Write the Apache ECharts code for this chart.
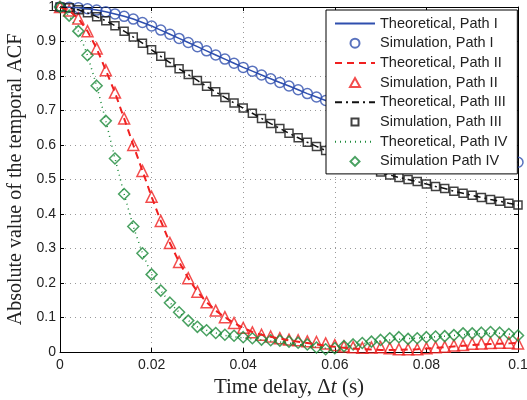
<!DOCTYPE html>
<html>
<head>
<meta charset="utf-8">
<script src="https://cdn.jsdelivr.net/npm/echarts@6/dist/echarts.min.js"></script>
<style>
html, body { margin: 0; padding: 0; background: #fff; }
#chart { width: 527px; height: 400px; }
</style>
</head>
<body>
<div id="chart"></div>
<script>
// time delay (s)
var tau = [0, 0.002, 0.004, 0.006, 0.008, 0.010, 0.012, 0.014, 0.016, 0.018,
    0.020, 0.022, 0.024, 0.026, 0.028, 0.030, 0.032, 0.034, 0.036, 0.038,
    0.040, 0.042, 0.044, 0.046, 0.048, 0.050, 0.052, 0.054, 0.056, 0.058,
    0.060, 0.062, 0.064, 0.066, 0.068, 0.070, 0.072, 0.074, 0.076, 0.078,
    0.080, 0.082, 0.084, 0.086, 0.088, 0.090, 0.092, 0.094, 0.096, 0.098, 0.100];

var simI = [1.000, 0.9995, 0.998, 0.995, 0.991, 0.986, 0.980, 0.973, 0.965, 0.955,
    0.945, 0.933, 0.921, 0.909, 0.897, 0.885, 0.873, 0.861, 0.849, 0.837,
    0.825, 0.814, 0.803, 0.792, 0.781, 0.771, 0.760, 0.749, 0.739, 0.729,
    0.719, 0.710, 0.700, 0.691, 0.682, 0.673, 0.664, 0.655, 0.646, 0.637,
    0.629, 0.620, 0.612, 0.604, 0.596, 0.588, 0.580, 0.572, 0.565, 0.557, 0.550];

var simII = [1.000, 0.990, 0.967, 0.930, 0.880, 0.817, 0.752, 0.677, 0.600, 0.525,
    0.450, 0.380, 0.316, 0.261, 0.214, 0.175, 0.144, 0.120, 0.101, 0.084,
    0.070, 0.057, 0.050, 0.045, 0.040, 0.036, 0.034, 0.031, 0.029, 0.025,
    0.020, 0.016, 0.014, 0.012, 0.013, 0.014, 0.011, 0.008, 0.008, 0.008,
    0.011, 0.014, 0.015, 0.019, 0.020, 0.024, 0.025, 0.026, 0.027, 0.027, 0.025];

var theoryII = [1.000, 0.990, 0.967, 0.930, 0.880, 0.817, 0.752, 0.677, 0.600, 0.525,
    0.450, 0.380, 0.316, 0.261, 0.214, 0.175, 0.144, 0.120, 0.101, 0.084,
    0.070, 0.058, 0.050, 0.044, 0.039, 0.034, 0.030, 0.026, 0.022, 0.018,
    0.015, 0.012, 0.010, 0.008, 0.007, 0.006, 0.006, 0.006, 0.007, 0.008,
    0.010, 0.012, 0.014, 0.016, 0.018, 0.020, 0.022, 0.023, 0.024, 0.025, 0.026];

var simIII = [1.000, 0.998, 0.992, 0.983, 0.972, 0.960, 0.946, 0.930, 0.913, 0.895,
    0.876, 0.857, 0.839, 0.821, 0.804, 0.787, 0.770, 0.754, 0.738, 0.722,
    0.707, 0.692, 0.677, 0.662, 0.648, 0.634, 0.621, 0.608, 0.596, 0.584,
    0.573, 0.562, 0.551, 0.541, 0.531, 0.522, 0.513, 0.506, 0.500, 0.494,
    0.487, 0.480, 0.474, 0.466, 0.460, 0.454, 0.448, 0.442, 0.437, 0.431, 0.426];

var simIV = [1.000, 0.975, 0.930, 0.860, 0.772, 0.670, 0.561, 0.458, 0.364, 0.286,
    0.225, 0.178, 0.143, 0.115, 0.091, 0.073, 0.063, 0.055, 0.050, 0.047,
    0.043, 0.040, 0.036, 0.034, 0.033, 0.030, 0.027, 0.022, 0.013, 0.008,
    0.011, 0.017, 0.022, 0.026, 0.030, 0.035, 0.040, 0.043, 0.038, 0.040,
    0.043, 0.045, 0.046, 0.049, 0.054, 0.054, 0.056, 0.058, 0.056, 0.052, 0.048];

var theoryIV = [1.000, 0.975, 0.930, 0.860, 0.772, 0.670, 0.561, 0.458, 0.364, 0.286,
    0.225, 0.178, 0.143, 0.115, 0.091, 0.073, 0.063, 0.055, 0.048, 0.044,
    0.041, 0.038, 0.035, 0.032, 0.029, 0.026, 0.022, 0.018, 0.014, 0.011,
    0.012, 0.016, 0.020, 0.024, 0.028, 0.032, 0.035, 0.037, 0.039, 0.040,
    0.042, 0.044, 0.046, 0.048, 0.050, 0.052, 0.053, 0.054, 0.054, 0.052, 0.049];

var BLUE = '#2f4fae', RED = '#f02020', BLACK = '#111111', GREEN = '#1b8a3a';

function pairs(ys) {
    return tau.map(function (t, i) { return [t, ys[i]]; });
}

var myChart = echarts.init(document.getElementById('chart'));

var tickFont = { fontFamily: 'Liberation Sans', fontSize: 14, color: '#222' };
var hideMarker = { opacity: 0 };

var option = {
    animation: false,
    backgroundColor: '#fff',
    grid: { left: 60, right: 9, top: 7, bottom: 48, containLabel: false, outerBoundsMode: 'none' },
    legend: {
        orient: 'vertical',
        left: 326,
        top: 10,
        padding: [6, 10, 5, 8],
        itemGap: 4.7,
        itemWidth: 40,
        itemHeight: 9,
        backgroundColor: '#fff',
        borderColor: '#000',
        borderWidth: 1,
        borderRadius: 0,
        textStyle: { fontFamily: 'Liberation Sans', fontSize: 14.5, color: '#222' },
        data: [
            { name: 'Theoretical, Path I', itemStyle: hideMarker },
            { name: 'Simulation, Path I', icon: 'circle' },
            { name: 'Theoretical, Path II', itemStyle: hideMarker },
            { name: 'Simulation, Path II', icon: 'path://M5,0 L10,9 L0,9 Z' },
            { name: 'Theoretical, Path III', itemStyle: hideMarker },
            { name: 'Simulation, Path III', icon: 'path://M0,0 M9,9 M1,1 L8,1 L8,8 L1,8 Z' },
            { name: 'Theoretical, Path IV', itemStyle: hideMarker },
            { name: 'Simulation Path IV', icon: 'path://M5,0 L10,5 L5,10 L0,5 Z' }
        ]
    },
    xAxis: [{
        type: 'value',
        min: 0, max: 0.1, interval: 0.02,
        name: 'Time delay, \u0394{i|t} (s)',
        nameLocation: 'middle',
        nameGap: 19,
        nameTextStyle: {
            fontFamily: 'Liberation Serif', fontSize: 21, color: '#222',
            rich: { i: { fontFamily: 'Liberation Serif', fontSize: 21, fontStyle: 'italic', color: '#222' } }
        },
        axisLine: { show: true, lineStyle: { color: '#000', width: 1 } },
        axisTick: { inside: true, length: 4, lineStyle: { color: '#000' } },
        axisLabel: Object.assign({ margin: 6, formatter: function (v) { return String(+v.toFixed(2)); } }, tickFont),
        splitLine: { show: true, lineStyle: { color: '#999', type: [1, 4], width: 1 } }
    }, {
        type: 'value', position: 'top',
        min: 0, max: 0.1, interval: 0.02,
        axisLine: { show: true, onZero: false, lineStyle: { color: '#000', width: 1 } },
        axisTick: { inside: true, length: 4, lineStyle: { color: '#000' } },
        axisLabel: { show: false },
        splitLine: { show: false }
    }],
    yAxis: [{
        type: 'value',
        min: 0, max: 1, interval: 0.1,
        name: 'Absolute value of the temporal ACF',
        nameLocation: 'middle',
        nameGap: 31,
        nameTextStyle: { fontFamily: 'Liberation Serif', fontSize: 20, color: '#222' },
        axisLine: { show: true, lineStyle: { color: '#000', width: 1 } },
        axisTick: { inside: true, length: 4, lineStyle: { color: '#000' } },
        axisLabel: Object.assign({ margin: 4, formatter: function (v) { return String(+v.toFixed(1)); } }, tickFont),
        splitLine: { show: true, lineStyle: { color: '#999', type: [1, 4], width: 1 } }
    }, {
        type: 'value', position: 'right',
        min: 0, max: 1, interval: 0.1,
        axisLine: { show: true, onZero: false, lineStyle: { color: '#000', width: 1 } },
        axisTick: { inside: true, length: 4, lineStyle: { color: '#000' } },
        axisLabel: { show: false },
        splitLine: { show: false }
    }],
    series: [
        {
            name: 'Theoretical, Path I', type: 'line', data: pairs(simI),
            symbol: 'none', color: BLUE,
            lineStyle: { color: BLUE, width: 1.5 }
        },
        {
            name: 'Simulation, Path I', type: 'scatter', data: pairs(simI),
            symbol: 'circle', symbolSize: 10,
            itemStyle: { color: 'rgba(0,0,0,0)', borderColor: BLUE, borderWidth: 1.5 }
        },
        {
            name: 'Theoretical, Path II', type: 'line', data: pairs(theoryII),
            symbol: 'none', color: RED,
            lineStyle: { color: RED, width: 2, type: [7, 5] }
        },
        {
            name: 'Simulation, Path II', type: 'scatter', data: pairs(simII),
            symbol: 'triangle', symbolSize: 11,
            itemStyle: { color: 'rgba(0,0,0,0)', borderColor: RED, borderWidth: 1.5 }
        },
        {
            name: 'Theoretical, Path III', type: 'line', data: pairs(simIII),
            symbol: 'none', color: BLACK,
            lineStyle: { color: BLACK, width: 1.5, type: [7, 4, 2, 4] }
        },
        {
            name: 'Simulation, Path III', type: 'scatter', data: pairs(simIII),
            symbol: 'rect', symbolSize: 8,
            itemStyle: { color: 'rgba(0,0,0,0)', borderColor: BLACK, borderWidth: 1.5 }
        },
        {
            name: 'Theoretical, Path IV', type: 'line', data: pairs(theoryIV),
            symbol: 'none', color: GREEN,
            lineStyle: { color: GREEN, width: 1.5, type: [1, 4] }
        },
        {
            name: 'Simulation Path IV', type: 'scatter', data: pairs(simIV),
            symbol: 'diamond', symbolSize: 11,
            itemStyle: { color: 'rgba(0,0,0,0)', borderColor: GREEN, borderWidth: 1.5 }
        }
    ]
};

myChart.setOption(option);
window.addEventListener('resize', function () { myChart.resize(); });
</script>
</body>
</html>
